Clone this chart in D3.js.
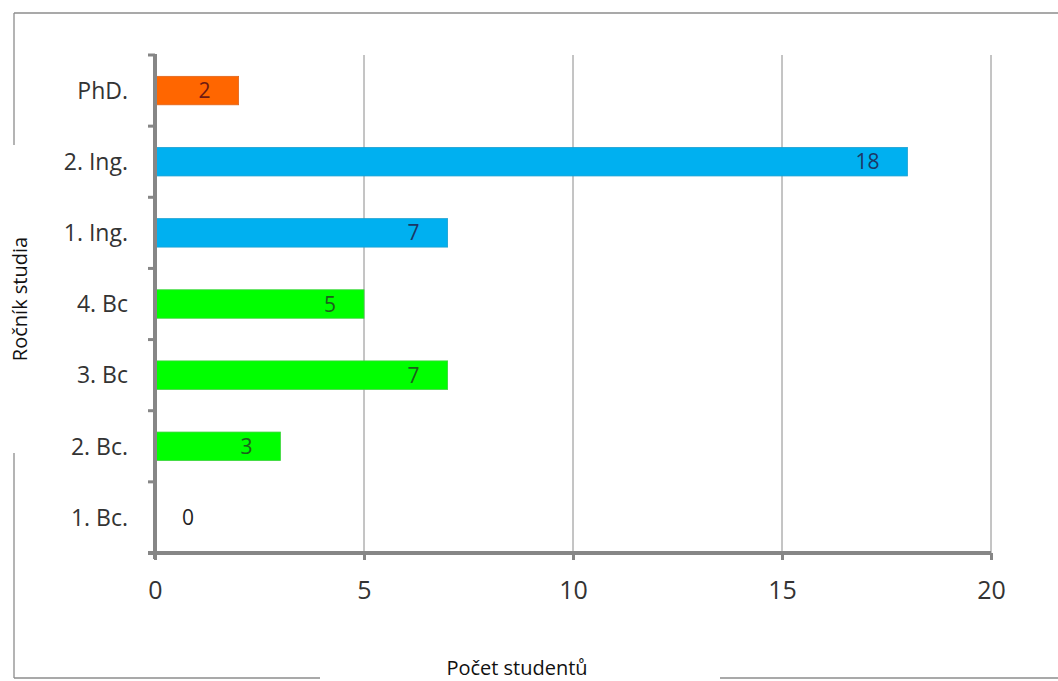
<!DOCTYPE html>
<html>
<head>
<meta charset="utf-8">
<script src="https://cdn.jsdelivr.net/npm/d3@7"></script>
<style>
  html, body { margin: 0; padding: 0; background: #fff; }
  svg { display: block; }
  text { font-family: "Open Sans", "Noto Sans", sans-serif; }
</style>
</head>
<body>
<svg id="chart" width="1058" height="681"></svg>
<script>
// Study year categories, bottom to top
const categories = ["1. Bc.", "2. Bc.", "3. Bc", "4. Bc", "1. Ing.", "2. Ing.", "PhD."];
// Number of students per year
const values = [0, 3, 7, 5, 7, 18, 2];
// Study level of each year (drives the colour)
const levels = ["bc", "bc", "bc", "bc", "ing", "ing", "phd"];
const xTicks = [0, 5, 10, 15, 20];

const levelFill = { bc: "#00ff00", ing: "#00b0f0", phd: "#ff6600" };
const levelStroke = { bc: "#3ad43a", ing: "#1a9fd0", phd: "#e0651c" };
const levelText = { bc: "#1d5e1d", ing: "#1c3766", phd: "#6e1a12" };

const svg = d3.select("#chart");
const W = 1058, H = 681;

const plot = { left: 155, right: 991, top: 55, bottom: 553 };

const x = d3.scaleLinear().domain([0, 20]).range([plot.left, plot.right]);
const y = d3.scaleBand()
  .domain(categories.slice().reverse())
  .range([plot.top, plot.bottom])
  .paddingInner(0.6)
  .paddingOuter(0.3);

// Outer frame (partially hidden behind the axis titles)
const frame = svg.append("g").attr("stroke", "#8c8c8c").attr("stroke-width", 1.3).attr("fill", "none");
frame.append("line").attr("x1", 14).attr("x2", W).attr("y1", 13).attr("y2", 13);
frame.append("line").attr("x1", 14).attr("x2", 14).attr("y1", 13).attr("y2", 145);
frame.append("line").attr("x1", 14).attr("x2", 14).attr("y1", 453).attr("y2", 678);
frame.append("line").attr("x1", 14).attr("x2", 320).attr("y1", 678).attr("y2", 678);
frame.append("line").attr("x1", 720).attr("x2", W).attr("y1", 678).attr("y2", 678);

// Vertical gridlines
svg.append("g")
  .selectAll("line")
  .data(xTicks.filter(d => d > 0))
  .join("line")
  .attr("x1", d => x(d)).attr("x2", d => x(d))
  .attr("y1", plot.top).attr("y2", plot.bottom)
  .attr("stroke", "#8a8a8a").attr("stroke-width", 1);

// Bars
svg.append("g")
  .selectAll("rect")
  .data(categories.map((c, i) => ({ c, v: values[i], lv: levels[i] })).filter(d => d.v > 0))
  .join("rect")
  .attr("x", x(0))
  .attr("y", d => y(d.c))
  .attr("width", d => x(d.v) - x(0))
  .attr("height", y.bandwidth())
  .attr("fill", d => levelFill[d.lv])
  .attr("stroke", d => levelStroke[d.lv])
  .attr("stroke-width", 0.8);

// Value labels: inside the bar end, or just right of the axis for zero
svg.append("g")
  .selectAll("text")
  .data(categories.map((c, i) => ({ c, v: values[i], lv: levels[i] })))
  .join("text")
  .attr("x", d => d.v > 0 ? x(d.v) - 28 : x(0) + 27)
  .attr("y", d => y(d.c) + y.bandwidth() / 2)
  .attr("dy", "0.36em")
  .attr("text-anchor", d => d.v > 0 ? "end" : "start")
  .attr("font-size", 21)
  .attr("fill", d => d.v > 0 ? levelText[d.lv] : "#222")
  .text(d => d.v);

// X axis
const xAxis = svg.append("g")
  .attr("transform", `translate(0,${plot.bottom})`)
  .call(d3.axisBottom(x).tickValues(xTicks).tickSize(7).tickPadding(21).tickSizeOuter(0));
xAxis.select(".domain").attr("stroke", "#868686").attr("stroke-width", 4)
  .attr("d", `M${plot.left - 7},0H${plot.right}`);
xAxis.selectAll(".tick line").attr("stroke", "#868686").attr("stroke-width", 3);
xAxis.selectAll(".tick text").attr("font-size", 25).attr("fill", "#333")
  .attr("font-family", "'Open Sans', 'Noto Sans', sans-serif");

// Y axis with ticks at the category boundaries
const yAxisG = svg.append("g").attr("transform", `translate(${plot.left},0)`);
yAxisG.append("line")
  .attr("x1", 0).attr("x2", 0).attr("y1", plot.top - 1).attr("y2", plot.bottom + 6)
  .attr("stroke", "#868686").attr("stroke-width", 4);
const boundaries = d3.range(categories.length + 1).map(i => plot.top + i * (plot.bottom - plot.top) / categories.length);
yAxisG.selectAll("line.tick")
  .data(boundaries)
  .join("line")
  .attr("class", "tick")
  .attr("x1", -7).attr("x2", 0)
  .attr("y1", d => d).attr("y2", d => d)
  .attr("stroke", "#868686").attr("stroke-width", 3);
yAxisG.selectAll("text")
  .data(categories)
  .join("text")
  .attr("x", -27)
  .attr("y", d => y(d) + y.bandwidth() / 2)
  .attr("dy", "0.36em")
  .attr("text-anchor", "end")
  .attr("font-size", 23)
  .attr("fill", "#333")
  .text(d => d);

// Axis titles
svg.append("text")
  .attr("x", 517).attr("y", 675)
  .attr("text-anchor", "middle")
  .attr("font-size", 20)
  .attr("fill", "#111")
  .text("Počet studentů");

svg.append("text")
  .attr("transform", "translate(27,299) rotate(-90)")
  .attr("text-anchor", "middle")
  .attr("font-size", 20)
  .attr("fill", "#111")
  .text("Ročník studia");
</script>
</body>
</html>
